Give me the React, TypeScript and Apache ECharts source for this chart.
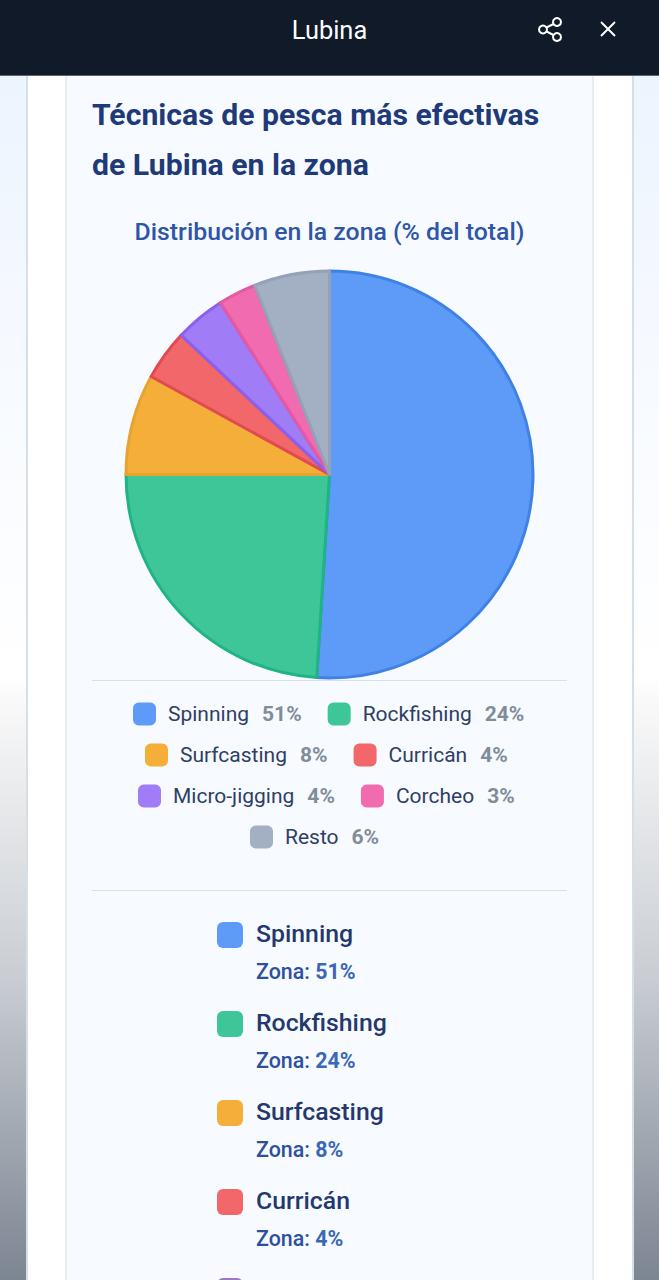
import React, { useEffect, useRef } from "react";
import * as echarts from "echarts";

const FONT = "Roboto";
const techniques = ["Spinning", "Rockfishing", "Surfcasting", "Curricán", "Micro-jigging", "Corcheo", "Resto"];
const shares = [51, 24, 8, 4, 4, 3, 6];
const fills = ["#5e9bf9", "#3ec698", "#f5ae3a", "#f1676a", "#a17cf7", "#f06bb0", "#a3afc3"];
const edges = ["#3f82e4", "#20b386", "#e6a32f", "#e04a50", "#8a60ee", "#e6589f", "#94a1b6"];
const legendRows = [[0, 1], [2, 3], [4, 5], [6]];
const legendLefts = [133, 145, 138, 250];
const headerTitle = "Lubina";
const mainTitle = "Técnicas de pesca más efectivas\nde Lubina en la zona";
const subTitle = "Distribución en la zona (% del total)";
const zoneLabel = "Zona: ";

const W = 659;
const H = 1280;

export default function App() {
  const ref = useRef<HTMLDivElement>(null);
  useEffect(() => {
    document.body.style.margin = "0";
    const chart = echarts.init(ref.current!, null, { renderer: "svg" });
    const shareOf = (name: string) => shares[techniques.indexOf(name)];

    const rect = (x: number, y: number, width: number, height: number, fill: any, z = 0) => ({
      type: "rect", silent: true, z, shape: { x, y, width, height }, style: { fill },
    });

    const listRows: any[] = [];
    techniques.slice(0, 4).forEach((name, i) => {
      const y = 922 + i * 89;
      listRows.push({
        type: "rect", z: 1, shape: { x: 217, y, width: 26, height: 26, r: 6 },
        style: { fill: fills[i] },
      });
      listRows.push({
        type: "text", z: 1, x: 256, y: y + 11,
        style: { text: name, font: `500 24.8px ${FONT}`, fill: "#24386e", verticalAlign: "middle" },
      });
      listRows.push({
        type: "text", z: 1, x: 256, y: y + 49,
        style: {
          text: `{a|${zoneLabel}}{b|${shares[i]}%}`,
          verticalAlign: "middle",
          rich: {
            a: { font: `500 21.4px ${FONT}`, fill: "#2c4f9e" },
            b: { font: `700 21.4px ${FONT}`, fill: "#3a68b8" },
          },
        },
      });
    });
    listRows.push({
      type: "rect", z: 1, shape: { x: 217, y: 1278, width: 26, height: 26, r: 6 },
      style: { fill: "#9a78c8" },
    });

    chart.setOption({
      animation: false,
      backgroundColor: "#ffffff",
      title: [
        {
          text: headerTitle, left: "center", top: 10, z: 20,
          textStyle: { fontFamily: FONT, fontSize: 25.4, fontWeight: 400, color: "#ffffff", lineHeight: 30 },
        },
        {
          text: mainTitle, left: 92, top: 89, z: 5, padding: 0,
          textStyle: { fontFamily: FONT, fontSize: 30.2, fontWeight: 700, color: "#1f3a78", lineHeight: 50 },
        },
        {
          text: subTitle, left: "center", top: 215, z: 5, padding: 0,
          textStyle: { fontFamily: FONT, fontSize: 24.8, fontWeight: 500, color: "#2d55a8", lineHeight: 32 },
        },
      ],
      legend: legendRows.map((row, i) => ({
        data: row.map((k) => techniques[k]),
        left: legendLefts[i],
        top: 702.5 + i * 41,
        padding: 0,
        itemWidth: 23,
        itemHeight: 23,
        itemGap: 26,
        icon: "roundRect",
        selectedMode: false,
        itemStyle: { borderWidth: 0 },
        formatter: (name: string) => `{n|${name}}{v|${shareOf(name)}%}`,
        textStyle: {
          rich: {
            n: { fontFamily: FONT, fontSize: 21, fontWeight: 400, color: "#2f3f63", padding: [0, 0, 0, 7] },
            v: { fontFamily: FONT, fontSize: 21, fontWeight: 700, color: "#818c9b", padding: [0, 0, 0, 13] },
          },
        },
      })),
      graphic: [
        {
          ...rect(0, 75, W, H - 75, {
            type: "linear", x: 0, y: 0, x2: 0, y2: 1,
            colorStops: [
              { offset: 0, color: "#ecf4fe" },
              { offset: 0.2, color: "#f5f9ff" },
              { offset: 0.5, color: "#ffffff" },
              { offset: 0.51, color: "#fbfbfb" },
              { offset: 0.75, color: "#c9cdd3" },
              { offset: 1, color: "#7c8592" },
            ],
          }),
        },
        rect(26, 75, 2, H - 75, "#d4e0e8"),
        rect(28, 75, 604, H - 75, "#ffffff"),
        rect(632, 75, 2, H - 75, "#d4e0e8"),
        rect(65, 75, 2, H - 75, "#e6edf3"),
        rect(67, 75, 525, H - 75, "#f7faff"),
        rect(592, 75, 2, H - 75, "#e6edf3"),
        rect(92, 680, 475, 1, "#d3e2ec", 1),
        rect(92, 890, 475, 1, "#d3e2ec", 1),
        ...listRows,
        rect(0, 0, W, 75, "#111a29", 10),
        rect(0, 75, W, 1, "#5b6470", 10),
        ...[
          [557, 22], [543, 29.5], [557, 37],
        ].map(([cx, cy]) => ({
          type: "circle", z: 11, shape: { cx, cy, r: 4 },
          style: { fill: "none", stroke: "#ffffff", lineWidth: 2 },
        })),
        ...[
          [546.5, 27.5, 553.5, 24], [546.5, 31.5, 553.5, 35],
          [601, 22, 615, 36], [615, 22, 601, 36],
        ].map(([x1, y1, x2, y2]) => ({
          type: "line", z: 11, shape: { x1, y1, x2, y2 },
          style: { stroke: "#ffffff", lineWidth: 2 },
        })),
      ],
      series: [
        {
          type: "pie",
          center: [329.5, 474.5],
          radius: [0, 203.5],
          startAngle: 90,
          clockwise: true,
          silent: true,
          label: { show: false },
          labelLine: { show: false },
          data: techniques.map((name, i) => ({
            name,
            value: shares[i],
            itemStyle: { color: fills[i], borderColor: edges[i], borderWidth: 3 },
          })),
        },
      ],
    });
    return () => chart.dispose();
  }, []);
  return <div ref={ref} style={{ width: W, height: H }} />;
}
